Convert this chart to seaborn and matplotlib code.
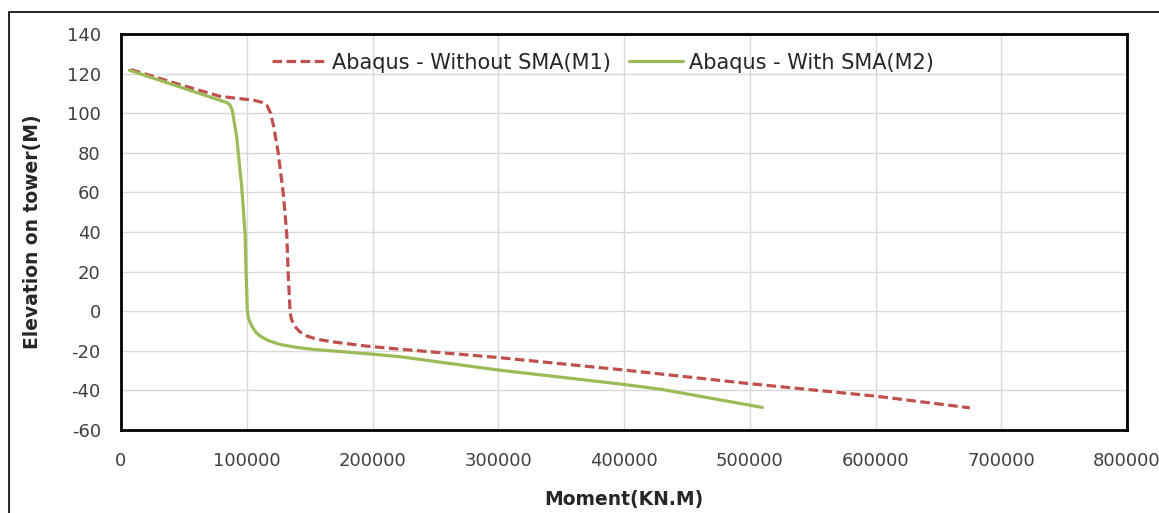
import matplotlib
matplotlib.use("Agg")
import matplotlib.pyplot as plt
import seaborn as sns
import pandas as pd
from matplotlib.patches import Rectangle

# Data
m1_moment = [8000, 47000, 79000, 106000, 112000, 116000, 119000, 121500, 125000, 129000, 131800, 133000,
             134500, 135500, 138000, 142000, 147700, 155000, 166000, 195000, 222000, 300000, 400000,
             500000, 600000, 675000]
m1_elev = [122, 114.4, 108.5, 106.5, 105.5, 104, 100, 93, 80, 59.7, 39, 18.6,
           -0.7, -4, -7.5, -10.3, -12.5, -14, -15.3, -17.6, -19.2, -23.4, -29.7,
           -36.6, -42.9, -48.8]

m2_moment = [6600, 84000, 86500, 88500, 92000, 96000, 98700, 99500, 100500, 101500, 104000, 107000,
             110600, 117000, 126500, 140000, 153000, 200000, 222000, 300000, 400000, 430000, 510000]
m2_elev = [121.7, 105.4, 104.3, 101.5, 88, 62.7, 39, 18.6, 0, -4, -7.5, -10.5,
           -12.5, -14.8, -16.8, -18.3, -19.3, -21.7, -23, -29.7, -37, -39.5, -48.6]

label_m1 = "Abaqus - Without SMA(M1)"
label_m2 = "Abaqus - With SMA(M2)"

x_ticks = [0, 100000, 200000, 300000, 400000, 500000, 600000, 700000, 800000]
y_ticks = [-60, -40, -20, 0, 20, 40, 60, 80, 100, 120, 140]

sns.set_theme(style="whitegrid")
plt.rcParams['font.family'] = ['DejaVu Sans']

fig = plt.figure(figsize=(11.59, 5.13), dpi=100)
ax = fig.add_axes([121/1159, 1 - 430/513, (1127-121)/1159, (430-34)/513])

df = pd.concat([
    pd.DataFrame({"Moment": m1_moment, "Elevation": m1_elev, "Series": label_m1}),
    pd.DataFrame({"Moment": m2_moment, "Elevation": m2_elev, "Series": label_m2}),
])

sns.lineplot(data=df, x="Moment", y="Elevation", hue="Series", style="Series",
             palette={label_m1: "#C0504D", label_m2: "#9BBB59"},
             dashes={label_m1: (3, 1.4), label_m2: ""},
             sort=False, estimator=None, linewidth=2.3, ax=ax)

ax.set_xlim(0, 800000)
ax.set_ylim(-60, 140)
ax.set_xticks(x_ticks)
ax.set_xticklabels([str(t) for t in x_ticks], fontsize=13, color="#404040")
ax.set_yticks(y_ticks)
ax.set_yticklabels([str(t) for t in y_ticks], fontsize=13, color="#404040")
ax.tick_params(axis="x", pad=16, length=0)
ax.tick_params(axis="y", pad=14.5, length=0)

ax.grid(True, color="#D9D9D9", linewidth=1)
for s in ax.spines.values():
    s.set_color("black")
    s.set_linewidth(2)

ax.set_xlabel("Moment(KN.M)", fontsize=13.5, fontweight="bold", labelpad=14)
ax.set_ylabel("Elevation on tower(M)", fontsize=13.5, fontweight="bold", labelpad=18)

handles, labels = ax.get_legend_handles_labels()
ax.legend(handles, labels, loc="upper center", bbox_to_anchor=(0.479, 1.0), ncol=2,
          frameon=False, fontsize=15, handlelength=2.6, handletextpad=0.25, columnspacing=0.9)

# outer figure border
fig.patches.append(Rectangle((9/1159, -0.1), 1.2, 1.1 - 12/513, transform=fig.transFigure,
                             fill=False, edgecolor="black", linewidth=1.2))

fig.savefig("out.png", dpi=100, facecolor="white")
